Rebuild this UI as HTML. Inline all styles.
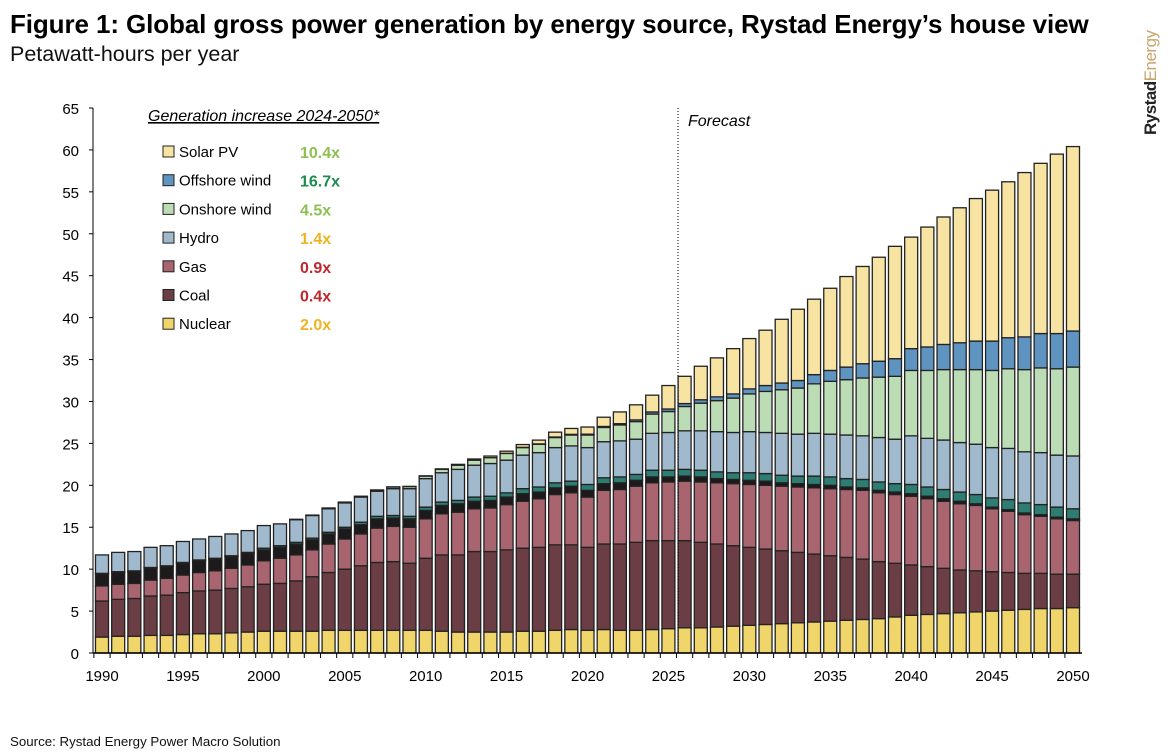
<!DOCTYPE html>
<html><head><meta charset="utf-8"><style>
body{margin:0;background:#fff;width:1168px;height:753px;overflow:hidden;font-family:"Liberation Sans",sans-serif;}
#title{position:absolute;left:10px;top:9px;font-size:26px;font-weight:bold;color:#000;margin:0;letter-spacing:-0.1px;white-space:nowrap}
#sub{position:absolute;left:10px;top:42px;font-size:21.5px;color:#111}
#src{position:absolute;left:10px;top:734px;font-size:13.3px;color:#111}
#logo{position:absolute;left:1141px;top:135px;transform:rotate(-90deg);transform-origin:0 0;font-size:17px;white-space:nowrap;letter-spacing:-0.5px}
</style></head><body>
<div id="title">Figure 1: Global gross power generation by energy source, Rystad Energy’s house view</div>
<div id="sub">Petawatt-hours per year</div>
<div id="logo"><b style="color:#222">Rystad</b><span style="color:#c9a36a">Energy</span></div>
<div id="src">Source: Rystad Energy Power Macro Solution</div>
<svg id="chart" width="1168" height="753" style="position:absolute;left:0;top:0"></svg>
<script>
const years=[];for(let y=1990;y<=2050;y++)years.push(y);
const nuclear=[1.9,2.0,2.0,2.1,2.1,2.2,2.3,2.3,2.4,2.5, 2.6,2.6,2.6,2.6,2.7,2.7,2.7,2.7,2.7,2.7, 2.7,2.6,2.5,2.5,2.5,2.5,2.6,2.6,2.7,2.8, 2.7,2.8,2.7,2.7,2.8,2.9,3.0,3.0,3.1,3.2, 3.3,3.4,3.5,3.6,3.7,3.8,3.9,4.0,4.1,4.3, 4.5,4.6,4.7,4.8,4.9,5.0,5.1,5.2,5.3,5.3, 5.4];
const coal=[4.3,4.4,4.5,4.7,4.8,5.0,5.1,5.2,5.3,5.4, 5.6,5.7,6.0,6.5,6.9,7.3,7.7,8.1,8.2,8.0, 8.6,9.1,9.2,9.6,9.6,9.8,9.9,10.0,10.2,10.1, 9.9,10.2,10.3,10.5,10.6,10.5,10.4,10.2,9.9,9.6, 9.3,9.0,8.7,8.4,8.1,7.8,7.5,7.2,6.8,6.4, 6.0,5.7,5.4,5.1,4.9,4.7,4.5,4.3,4.2,4.1, 4.0];
const gas=[1.8,1.8,1.8,1.9,2.0,2.1,2.2,2.3,2.4,2.6, 2.8,3.0,3.1,3.2,3.4,3.6,3.8,4.1,4.2,4.3, 4.7,4.9,5.1,5.1,5.2,5.4,5.6,5.8,6.0,6.2, 6.0,6.4,6.5,6.7,6.9,7.0,7.1,7.2,7.3,7.4, 7.5,7.6,7.7,7.8,7.9,8.0,8.1,8.2,8.2,8.2, 8.2,8.1,8.0,7.9,7.8,7.5,7.3,7.0,6.8,6.6, 6.4];
const oil=[1.4,1.4,1.4,1.4,1.4,1.4,1.4,1.4,1.4,1.4, 1.3,1.3,1.3,1.2,1.2,1.2,1.1,1.1,1.0,1.0, 1.0,1.0,1.0,0.9,0.9,0.9,0.9,0.8,0.8,0.8, 0.8,0.8,0.8,0.7,0.7,0.6,0.6,0.6,0.5,0.5, 0.5,0.5,0.4,0.4,0.4,0.4,0.3,0.3,0.3,0.3, 0.3,0.3,0.3,0.3,0.2,0.2,0.2,0.2,0.2,0.2, 0.2];
const bio=[0.1,0.1,0.1,0.1,0.1,0.1,0.1,0.1,0.1,0.1, 0.2,0.2,0.2,0.2,0.2,0.2,0.3,0.3,0.3,0.3, 0.4,0.4,0.4,0.5,0.5,0.5,0.6,0.6,0.6,0.6, 0.7,0.7,0.7,0.7,0.8,0.8,0.8,0.8,0.8,0.8, 0.9,0.9,0.9,0.9,1.0,1.0,1.0,1.0,1.0,1.0, 1.1,1.1,1.1,1.1,1.1,1.1,1.2,1.2,1.2,1.2, 1.2];
const hydro=[2.2,2.3,2.3,2.4,2.4,2.5,2.5,2.6,2.6,2.6, 2.7,2.6,2.7,2.7,2.8,2.9,3.0,3.0,3.2,3.3, 3.4,3.5,3.7,3.8,3.9,3.9,4.0,4.1,4.2,4.2, 4.4,4.3,4.3,4.2,4.4,4.5,4.6,4.7,4.8,4.8, 4.9,4.9,5.0,5.0,5.1,5.1,5.2,5.2,5.3,5.3, 5.8,5.8,5.9,5.9,6.0,6.0,6.1,6.1,6.2,6.2, 6.3];
const onshore=[0,0,0,0,0,0,0,0,0,0, 0,0,0.05,0.05,0.1,0.1,0.1,0.15,0.2,0.25, 0.3,0.4,0.5,0.6,0.7,0.8,0.9,1.0,1.2,1.3, 1.5,1.7,1.9,2.1,2.3,2.5,2.9,3.3,3.7,4.1, 4.5,4.9,5.2,5.5,5.9,6.3,6.6,6.9,7.2,7.5, 7.8,8.1,8.4,8.7,8.9,9.2,9.5,9.8,10.1,10.3, 10.6];
const offshore=[0,0,0,0,0,0,0,0,0,0, 0,0,0,0,0,0,0,0,0,0, 0,0,0,0,0,0.02,0.03,0.04,0.06,0.08, 0.1,0.12,0.15,0.2,0.25,0.3,0.35,0.4,0.45,0.5, 0.6,0.7,0.8,0.9,1.1,1.3,1.5,1.7,1.9,2.1, 2.6,2.8,3.0,3.2,3.4,3.5,3.7,3.9,4.1,4.2, 4.3];
const solar=[0,0,0,0,0,0,0,0,0,0, 0,0,0,0,0,0,0,0,0.01,0.02, 0.03,0.06,0.1,0.14,0.19,0.25,0.33,0.45,0.58,0.7, 0.85,1.1,1.4,1.8,2.0,2.8,3.25,4.0,4.65,5.4, 6.0,6.6,7.6,8.5,9.0,9.8,10.8,11.6,12.4,13.4, 13.3,14.3,15.2,16.1,17.0,18.0,18.6,19.6,20.3,21.4, 22.0];
const yTicks=[0,5,10,15,20,25,30,35,40,45,50,55,60,65];
const xTickLabels=[1990,1995,2000,2005,2010,2015,2020,2025,2030,2035,2040,2045,2050];
const legendLabels=["Solar PV","Offshore wind","Onshore wind","Hydro","Gas","Coal","Nuclear"];
const legendMult=["10.4x","16.7x","4.5x","1.4x","0.9x","0.4x","2.0x"];

const series=[
 {name:"nuclear",v:nuclear,c:"#f0d66a"},{name:"coal",v:coal,c:"#6b3d45"},{name:"gas",v:gas,c:"#a8646f"},
 {name:"oil",v:oil,c:"#1c1a1a"},{name:"bioenergy",v:bio,c:"#2e7d72"},{name:"hydro",v:hydro,c:"#a0b9cc"},
 {name:"onshore-wind",v:onshore,c:"#bcdcb6"},{name:"offshore-wind",v:offshore,c:"#5f94c0"},{name:"solar-pv",v:solar,c:"#f8e4a2"}];
const legendColors=["#f8e4a2","#5f94c0","#bcdcb6","#a0b9cc","#a8646f","#6b3d45","#f0d66a"];
const multColors=["#8cc152","#1e8c4e","#8cc152","#f0b323","#c0282d","#c0282d","#f0b323"];

const svg=document.getElementById('chart');const NS="http://www.w3.org/2000/svg";
const y0=653,yTop=108,x1990=102,x2050=1073;
const ys=v=>y0-(v/65)*(y0-yTop);
const xs=yr=>x1990+(yr-1990)*(x2050-x1990)/60;
function mk(t,a,p){const e=document.createElementNS(NS,t);for(const k in a)e.setAttribute(k,a[k]);(p||svg).appendChild(e);return e;}
const yax=mk('line',{x1:93,y1:yTop,x2:93,y2:y0,stroke:"#000","stroke-width":1});


yTicks.forEach(t=>{
 const l=mk('line',{x1:89,x2:93,y1:ys(t),y2:ys(t),stroke:"#000"});
 
 
 const tx=mk('text',{x:79,y:ys(t)+6,"text-anchor":"end","font-size":15,fill:"#000","font-family":"Liberation Sans, sans-serif"});tx.textContent=t;
 
 
});
const bw=13;
years.forEach((yr,i)=>{
 let acc=0;const g=mk('g',{});
 
 
 series.forEach(s=>{
  const v=s.v[i];if(!v)return;
  const r=mk('rect',{x:xs(yr)-bw/2,y:ys(acc+v),width:bw,height:ys(acc)-ys(acc+v),fill:s.c,stroke:"#222","stroke-width":1.3},g);
  
  
  acc+=v;
 });
 const tk=mk('line',{x1:xs(yr)-8.1,x2:xs(yr)-8.1,y1:y0,y2:y0+5,stroke:"#000"});
 
 
});
const xax=mk('line',{x1:93,y1:y0,x2:1082,y2:y0,stroke:"#000","stroke-width":1.5});


xTickLabels.forEach(t=>{
 const tx=mk('text',{x:xs(t),y:681,"text-anchor":"middle","font-size":15,fill:"#000","font-family":"Liberation Sans, sans-serif"});tx.textContent=t;
 
 
});
const fl=mk('line',{x1:678,x2:678,y1:yTop,y2:y0,stroke:"#000","stroke-dasharray":"1,2"});


const ft=mk('text',{x:688,y:126,"font-size":16,"font-style":"italic",fill:"#000","font-family":"Liberation Sans, sans-serif"});ft.textContent="Forecast";


const lt=mk('text',{x:148,y:121,"font-size":16,"font-style":"italic","text-decoration":"underline",fill:"#000","font-family":"Liberation Sans, sans-serif"});lt.textContent="Generation increase 2024-2050*";


legendLabels.forEach((lab,i)=>{
 const yy=157+i*28.7;
 const g=mk('g',{});
 
 
 mk('rect',{x:163,y:yy-11,width:11,height:11,fill:legendColors[i],stroke:"#222"},g);
 const t=mk('text',{x:179,y:yy,"font-size":15,fill:"#000","font-family":"Liberation Sans, sans-serif"},g);t.textContent=lab;
 const m=mk('text',{x:300,y:yy+1,"font-size":16,"font-weight":"bold",fill:multColors[i],"font-family":"Liberation Sans, sans-serif"},g);m.textContent=legendMult[i];
});
</script>
</body></html>
